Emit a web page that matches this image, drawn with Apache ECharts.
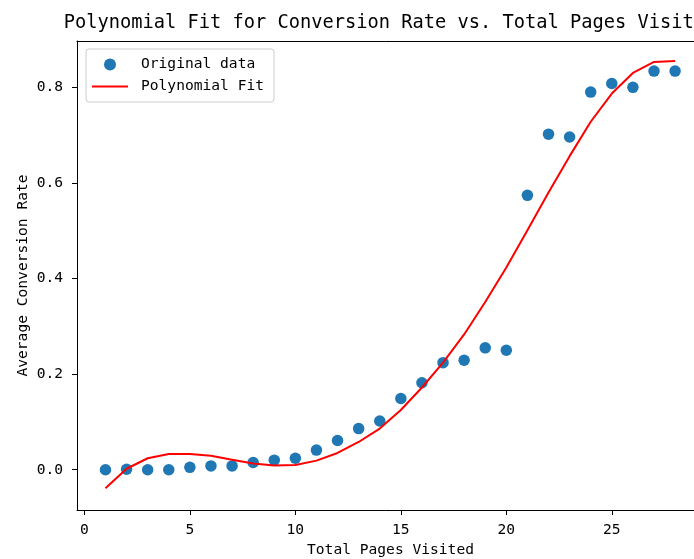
<!DOCTYPE html>
<html>
<head>
<meta charset="utf-8">
<script src="https://cdn.jsdelivr.net/npm/echarts@6/dist/echarts.min.js"></script>
<style>html,body{margin:0;padding:0;background:#fff;}#c{width:694px;height:559px;}</style>
</head>
<body>
<div id="c"></div>
<script>
const pages = [1,2,3,4,5,6,7,8,9,10,11,12,13,14,15,16,17,18,19,20,21,22,23,24,25,26,27,28];
const conversionRate = [0.000,0.001,0.000,0.000,0.005,0.008,0.008,0.015,0.020,0.024,0.041,0.061,0.086,0.102,0.149,0.182,0.224,0.229,0.255,0.250,0.574,0.702,0.696,0.790,0.808,0.800,0.834,0.834];
const polyFit = [-0.039,0.002,0.024,0.033,0.033,0.029,0.021,0.013,0.009,0.010,0.019,0.035,0.058,0.086,0.125,0.172,0.224,0.283,0.351,0.423,0.501,0.580,0.656,0.728,0.787,0.830,0.853,0.855];
const xTicks = [0,5,10,15,20,25];
const yTicks = [0,0.2,0.4,0.6,0.8];

const FONT = '"DejaVu Sans Mono", monospace';
const XMIN = -0.35, XMAX = 29.37;
const chart = echarts.init(document.getElementById('c'), null, {renderer:'canvas'});
chart.setOption({
  animation: false,
  backgroundColor: '#fff',
  title: {
    text: 'Polynomial Fit for Conversion Rate vs. Total Pages Visited',
    left: 390, top: 14, textAlign: 'center', padding: 0,
    textStyle: {fontFamily: FONT, fontSize: 18.7, fontWeight: 'normal', color: '#000'}
  },
  legend: {
    orient: 'vertical', left: 86, top: 49,
    padding: [8, 10, 8, 6],
    itemWidth: 36, itemHeight: 12, itemGap: 7,
    borderColor: '#cccccc', borderWidth: 1, borderRadius: 3,
    backgroundColor: 'rgba(255,255,255,0.8)',
    textStyle: {fontFamily: FONT, fontSize: 14.6, color: '#000', padding: [0,0,0,8]},
    data: [
      {name: 'Original data', icon: 'circle'},
      {name: 'Polynomial Fit', icon: 'path://M0,0L36,0L36,2L0,2Z'}
    ]
  },
  grid: {left: 77, top: 41, width: 627, height: 469, show: false, outerBoundsMode: 'none', containLabel: false},
  xAxis: [{
    type: 'value', min: XMIN, max: XMAX,
    name: 'Total Pages Visited', nameLocation: 'middle', nameGap: 33, nameMoveOverlap: false,
    nameTextStyle: {fontFamily: FONT, fontSize: 14.6, color: '#000'},
    axisLine: {show: true, onZero: false, lineStyle: {color: '#000', width: 1}},
    axisTick: {show: true, length: 5, lineStyle: {color: '#000'}, customValues: xTicks},
    axisLabel: {fontFamily: FONT, fontSize: 14.6, color: '#000', margin: 13, customValues: xTicks},
    splitLine: {show: false}
  }, {
    type: 'value', min: XMIN, max: XMAX, position: 'top',
    axisLine: {show: true, onZero: false, lineStyle: {color: '#000', width: 1}},
    axisTick: {show: false}, axisLabel: {show: false}, splitLine: {show: false}
  }],
  yAxis: {
    type: 'value', min: -0.0843, max: 0.8969,
    name: 'Average Conversion Rate', nameLocation: 'middle', nameGap: 46.5, nameMoveOverlap: false,
    nameTextStyle: {fontFamily: FONT, fontSize: 14.6, color: '#000'},
    axisLine: {show: true, onZero: false, lineStyle: {color: '#000', width: 1}},
    axisTick: {show: true, length: 5, lineStyle: {color: '#000'}, customValues: yTicks},
    axisLabel: {fontFamily: FONT, fontSize: 14.6, color: '#000', margin: 14, customValues: yTicks,
      formatter: v => v.toFixed(1)},
    splitLine: {show: false}
  },
  series: [
    {
      name: 'Original data', type: 'scatter', symbolSize: 11.5,
      itemStyle: {color: '#1f77b4', opacity: 1},
      data: pages.map((p, i) => [p, conversionRate[i]]),
      z: 2
    },
    {
      name: 'Polynomial Fit', type: 'line', symbol: 'none', smooth: false,
      lineStyle: {color: '#ff0000', width: 2},
      itemStyle: {color: '#ff0000'},
      data: pages.map((p, i) => [p, polyFit[i]]),
      z: 3
    }
  ]
});
</script>
</body>
</html>
